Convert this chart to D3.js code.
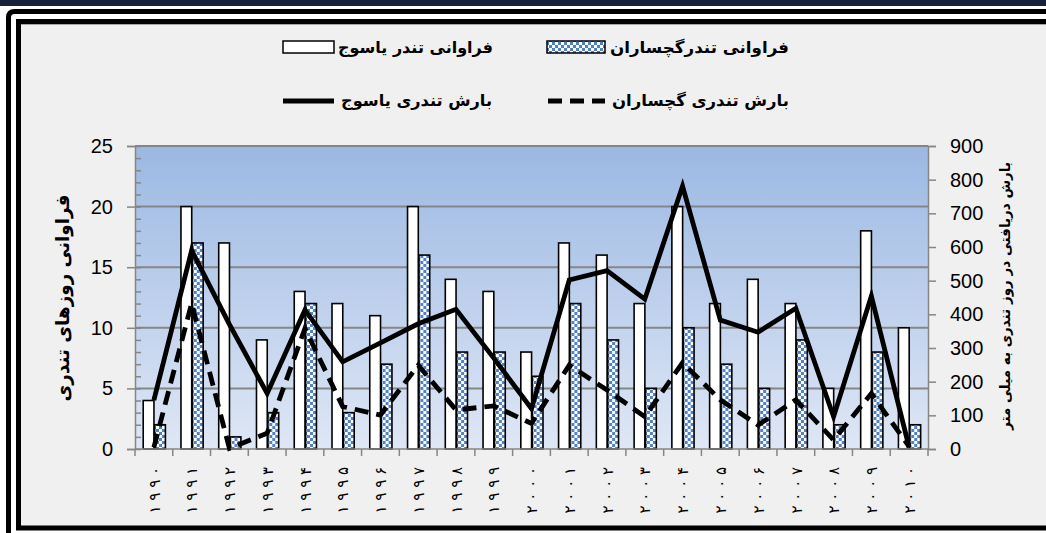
<!DOCTYPE html>
<html>
<head>
<meta charset="utf-8">
<script src="https://cdn.jsdelivr.net/npm/d3@7"></script>
<style>
  body { margin: 0; background: #fff; }
  svg { display: block; }
  .tick text { font-family: 'Liberation Sans', Arial, sans-serif; }
  .fa { font-family: 'DejaVu Sans', sans-serif; font-weight: bold; }
  .yr { font-family: 'DejaVu Sans', sans-serif; }
</style>
</head>
<body>
<svg id="chart" width="1046" height="533"></svg>
<script>
// years 1990..2010 as printed under the axis
const yearLabels = ['۱۹۹۰', '۱۹۹۱', '۱۹۹۲', '۱۹۹۳', '۱۹۹۴', '۱۹۹۵', '۱۹۹۶', '۱۹۹۷', '۱۹۹۸', '۱۹۹۹', '۲۰۰۰',
  '۲۰۰۱', '۲۰۰۲', '۲۰۰۳', '۲۰۰۴', '۲۰۰۵', '۲۰۰۶', '۲۰۰۷', '۲۰۰۸', '۲۰۰۹', '۲۰۱۰'];
const freqYasuj = [4, 20, 17, 9, 13, 12, 11, 20, 14, 13, 8, 17, 16, 12, 20, 12, 14, 12, 5, 18, 10];
const freqGach = [2, 17, 1, 3, 12, 3, 7, 16, 8, 8, 6, 12, 9, 5, 10, 7, 5, 9, 2, 8, 2];
const rainYasuj = [145, 590, 370, 165, 413, 259, 315, 372, 415, 270, 120, 502, 530, 445, 781, 383, 347, 418, 96, 454, 5];
const rainGach = [5, 433, 2, 47, 358, 126, 101, 249, 116, 128, 76, 249, 175, 96, 256, 146, 71, 146, 27, 165, 7];
const leftTicks = [0, 5, 10, 15, 20, 25];
const rightTicks = [0, 100, 200, 300, 400, 500, 600, 700, 800, 900];

const svg = d3.select('#chart');
const plot = { left: 135, right: 928, top: 146, bottom: 449 };
const axisGrey = '#868686';

// frame
svg.append('rect').attr('width', 1046).attr('height', 533).attr('fill', '#fff');
svg.append('rect').attr('width', 1046).attr('height', 6).attr('fill', '#16213a');
svg.append('rect').attr('x', 21).attr('y', 24).attr('width', 1025).attr('height', 502).attr('fill', '#f0f0f0');
svg.append('path')
  .attr('d', 'M8.5,540 L8.5,17.5 Q8.5,11.5 14.5,11.5 L1050,11.5')
  .attr('fill', 'none').attr('stroke', '#000').attr('stroke-width', 5);
svg.append('path')
  .attr('d', 'M1050,21.5 L18.5,21.5 L18.5,528 L1050,528')
  .attr('fill', 'none').attr('stroke', '#000').attr('stroke-width', 5);
svg.append('line').attr('x1', 21).attr('x2', 1046).attr('y1', 24.5).attr('y2', 24.5)
  .attr('stroke', '#a6a6a6').attr('stroke-width', 1);

const defs = svg.append('defs');
const grad = defs.append('linearGradient').attr('id', 'bg')
  .attr('x1', 0).attr('y1', 0).attr('x2', 0).attr('y2', 1);
grad.append('stop').attr('offset', '0%').attr('stop-color', '#9bb8e3');
grad.append('stop').attr('offset', '100%').attr('stop-color', '#dfe7f5');

const pat = defs.append('pattern').attr('id', 'checker')
  .attr('patternUnits', 'userSpaceOnUse').attr('width', 6).attr('height', 6);
pat.append('rect').attr('width', 6).attr('height', 6).attr('fill', '#fff');
pat.append('rect').attr('width', 3).attr('height', 3).attr('fill', '#4f81c7');
pat.append('rect').attr('x', 3).attr('y', 3).attr('width', 3).attr('height', 3).attr('fill', '#4f81c7');

// scales
const x0 = d3.scaleBand().domain(yearLabels).range([plot.left, plot.right]).padding(0);
const x1 = d3.scaleBand().domain(['y', 'g']).range([8.2, 30.4]).paddingInner(0.06);
const yLeft = d3.scaleLinear().domain([0, 25]).range([plot.bottom, plot.top]);
const yRight = d3.scaleLinear().domain([0, 900]).range([plot.bottom, plot.top]);

svg.append('rect')
  .attr('x', plot.left).attr('y', plot.top)
  .attr('width', plot.right - plot.left).attr('height', plot.bottom - plot.top)
  .attr('fill', 'url(#bg)');

// gridlines
svg.append('g').selectAll('line')
  .data(leftTicks.slice(1))
  .enter().append('line')
  .attr('x1', plot.left).attr('x2', plot.right)
  .attr('y1', d => yLeft(d)).attr('y2', d => yLeft(d))
  .attr('stroke', axisGrey).attr('stroke-width', 2);

// bars
const rows = yearLabels.map((k, i) => ({ k, y: freqYasuj[i], g: freqGach[i] }));
const barG = svg.append('g').selectAll('g')
  .data(rows).enter().append('g')
  .attr('transform', d => `translate(${x0(d.k)},0)`);
barG.append('rect')
  .attr('x', x1('y')).attr('width', x1.bandwidth())
  .attr('y', d => yLeft(d.y)).attr('height', d => yLeft(0) - yLeft(d.y))
  .attr('fill', '#fff').attr('stroke', '#000').attr('stroke-width', 1.6);
barG.append('rect')
  .attr('x', x1('g')).attr('width', x1.bandwidth())
  .attr('y', d => yLeft(d.g)).attr('height', d => yLeft(0) - yLeft(d.g))
  .attr('fill', 'url(#checker)').attr('stroke', '#000').attr('stroke-width', 1.6);

// axes
svg.append('g').attr('transform', `translate(${plot.left},0)`)
  .call(d3.axisLeft(yLeft).tickValues(leftTicks).tickSize(8).tickPadding(14));
svg.append('g').attr('transform', `translate(${plot.left},0)`)
  .call(d3.axisRight(yLeft).tickValues(d3.range(0, 26)).tickSize(6).tickFormat(''))
  .call(g => g.select('.domain').remove());
svg.append('g').attr('transform', `translate(${plot.right},0)`)
  .call(d3.axisRight(yRight).tickValues(rightTicks).tickSize(8).tickPadding(14));
const bottomAxis = svg.append('g').attr('transform', `translate(0,${plot.bottom})`)
  .call(d3.axisBottom(x0).tickSize(0).tickFormat(''));
svg.append('g').selectAll('line')
  .data(d3.range(yearLabels.length + 1))
  .enter().append('line')
  .attr('x1', i => plot.left + i * x0.step()).attr('x2', i => plot.left + i * x0.step())
  .attr('y1', plot.bottom).attr('y2', plot.bottom + 7)
  .attr('stroke', axisGrey).attr('stroke-width', 1.5);

svg.selectAll('.domain, .tick line').attr('stroke', axisGrey).attr('stroke-width', 1.5);
svg.selectAll('.tick text').attr('font-size', 20).attr('fill', '#000');
bottomAxis.select('.domain').attr('d', `M${plot.left},0H${plot.right}`);

// year labels: each digit turned on its side, last digit on top
const yearG = svg.append('g').selectAll('g')
  .data(yearLabels).enter().append('g')
  .attr('transform', d => `translate(${x0(d) + x0.bandwidth() / 2},0)`);
yearG.selectAll('text')
  .data(d => Array.from(d).reverse())
  .enter().append('text')
  .attr('class', 'yr')
  .attr('transform', (c, j) => `translate(0,${471 + j * 12.8}) rotate(-90)`)
  .attr('text-anchor', 'middle')
  .attr('dy', '0.38em')
  .attr('font-size', 15)
  .text(c => c);

// lines
const line = d3.line().x((d, i) => x0(yearLabels[i]) + x0.bandwidth() / 2).y(d => yRight(d));
svg.append('path').datum(rainYasuj)
  .attr('d', line).attr('fill', 'none').attr('stroke', '#000').attr('stroke-width', 4.8)
  .attr('stroke-linejoin', 'miter');
svg.append('path').datum(rainGach)
  .attr('d', line).attr('fill', 'none').attr('stroke', '#000').attr('stroke-width', 4.8)
  .attr('stroke-dasharray', '14,8');

// axis titles
svg.append('text').attr('class', 'fa')
  .attr('transform', 'translate(62,298) rotate(-90)')
  .attr('text-anchor', 'middle').attr('dy', '0.35em')
  .attr('font-size', 19).attr('textLength', 207).attr('lengthAdjust', 'spacingAndGlyphs')
  .text('فراوانی روزهای تندری');
svg.append('text').attr('class', 'fa')
  .attr('transform', 'translate(1005,296) rotate(-90)')
  .attr('text-anchor', 'middle').attr('dy', '0.35em')
  .attr('font-size', 14).attr('textLength', 268).attr('lengthAdjust', 'spacingAndGlyphs')
  .text('بارش دریافتی در روز تندری به میلی متر');

// legend
const legend = svg.append('g');
legend.append('rect').attr('x', 283).attr('y', 41).attr('width', 51).attr('height', 12)
  .attr('fill', '#fff').attr('stroke', '#000').attr('stroke-width', 1.5);
legend.append('rect').attr('x', 547).attr('y', 41).attr('width', 58).attr('height', 12)
  .attr('fill', 'url(#checker)').attr('stroke', '#000').attr('stroke-width', 1.5);
legend.append('line').attr('x1', 283).attr('x2', 334).attr('y1', 101).attr('y2', 101)
  .attr('stroke', '#000').attr('stroke-width', 5);
legend.append('line').attr('x1', 548).attr('x2', 605).attr('y1', 101).attr('y2', 101)
  .attr('stroke', '#000').attr('stroke-width', 5).attr('stroke-dasharray', '14,8');

const legendText = [
  { t: 'فراوانی تندر یاسوج', x: 338, y: 47, w: 155 },
  { t: 'فراوانی تندرگچساران', x: 610, y: 47, w: 179 },
  { t: 'بارش تندری یاسوج', x: 341, y: 100, w: 151 },
  { t: 'بارش تندری گچساران', x: 612, y: 100, w: 177 }
];
legend.selectAll('text.lg')
  .data(legendText).enter().append('text')
  .attr('class', 'fa lg')
  .attr('x', d => d.x).attr('y', d => d.y).attr('dy', '0.35em')
  .attr('font-size', 16)
  .attr('textLength', d => d.w).attr('lengthAdjust', 'spacingAndGlyphs')
  .text(d => d.t);
</script>
</body>
</html>
